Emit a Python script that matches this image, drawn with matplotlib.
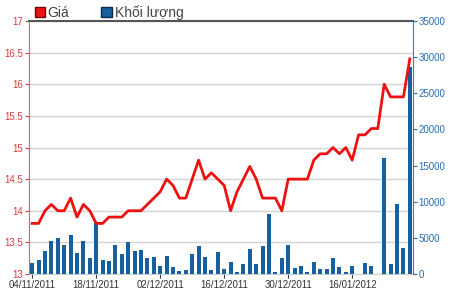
import matplotlib
matplotlib.use("Agg")
import matplotlib.pyplot as plt
from matplotlib.patches import Patch
import numpy as np

plt.rcParams['font.family'] = ['Liberation Sans', 'DejaVu Sans']

# Giá đóng cửa (nghìn đồng) theo từng phiên
gia = [13.8, 13.8, 14.0, 14.1, 14.0, 14.0, 14.2, 13.9, 14.1, 14.0,
       13.8, 13.8, 13.9, 13.9, 13.9, 14.0, 14.0, 14.0, 14.1, 14.2,
       14.3, 14.5, 14.4, 14.2, 14.2, 14.5, 14.8, 14.5, 14.6, 14.5,
       14.4, 14.0, 14.3, 14.5, 14.7, 14.5, 14.2, 14.2, 14.2, 14.0,
       14.5, 14.5, 14.5, 14.5, 14.8, 14.9, 14.9, 15.0, 14.9, 15.0,
       14.8, 15.2, 15.2, 15.3, 15.3, 16.0, 15.8, 15.8, 15.8, 16.4]

# Khối lượng giao dịch
khoi_luong = [1500, 1900, 3140, 4520, 4980, 3970, 5390, 2860, 4560, 2210,
              7240, 1900, 1750, 3970, 2720, 4380, 3180, 3320, 2210, 2300,
              1150, 2530, 1010, 460, 600, 2720, 3920, 2300, 550, 3000,
              650, 1700, 320, 1340, 3410, 1340, 3870, 8300, 230, 2210,
              3970, 790, 1150, 230, 1700, 650, 650, 2170, 930, 230,
              1150, 0, 1480, 1100, 0, 16000, 1340, 9640, 3550, 28600]

nhan_ngay = ["04/11/2011", "18/11/2011", "02/12/2011", "16/12/2011", "30/12/2011", "16/01/2012"]
vi_tri_nhan = [0, 10, 20, 30, 40, 50]

mau_do = '#ee1111'
mau_xanh = '#17609f'

x = np.arange(len(gia))

fig = plt.figure(figsize=(4.5, 2.91), dpi=100)
ax = fig.add_axes([29 / 450, 17 / 291, 384 / 450, 253 / 291])
ax.set_xlim(-0.5, len(gia) - 0.5)
ax.set_ylim(13, 17)
ticks_gia = np.arange(13, 17.01, 0.5)
ax.set_yticks(ticks_gia)
ax.set_yticklabels([f"{t:g}" for t in ticks_gia])
ax.grid(axis='y', color='#d4d4d4', lw=1)
ax.set_axisbelow(True)
ax.tick_params(axis='y', colors='#e03a3a', labelsize=7, length=3, pad=1)
ax.set_xticks(vi_tri_nhan)
ax.set_xticklabels(nhan_ngay)
ax.tick_params(axis='x', colors='#333333', labelsize=7, length=3, pad=1.5)
ax.spines['left'].set_color('#ff5555')
ax.spines['top'].set_color('#555555')
ax.spines['top'].set_linewidth(1.5)
ax.spines['right'].set_visible(False)
ax.spines['bottom'].set_color('#cccccc')

# khối lượng - trục phải
ax_kl = ax.twinx()
ax_kl.bar(x, khoi_luong, width=0.62, color=mau_xanh)
ax_kl.set_ylim(0, 35000)
ax_kl.set_yticks(np.arange(0, 35001, 5000))
ax_kl.tick_params(axis='y', colors='#2a6db5', labelsize=7, length=3, pad=1)
ax_kl.spines['right'].set_color('#3b7fc0')
for s in ['left', 'top', 'bottom']:
    ax_kl.spines[s].set_visible(False)

# đường giá nằm trên cột
ax_gia = ax.twinx()
ax_gia.plot(x, gia, color=mau_do, lw=2)
ax_gia.set_ylim(13, 17)
ax_gia.axis('off')

fig.legend(handles=[Patch(facecolor=mau_do, edgecolor='#700000', label='Giá'),
                    Patch(facecolor=mau_xanh, edgecolor='#0a2a50', label='Khối lượng')],
           loc='upper left', bbox_to_anchor=(22 / 450, 1.025), ncol=2, frameon=False,
           fontsize=10, handlelength=0.75, handleheight=0.75, handletextpad=0.2,
           columnspacing=2.3, labelcolor='#444444')

fig.savefig('out.png', dpi=100)
